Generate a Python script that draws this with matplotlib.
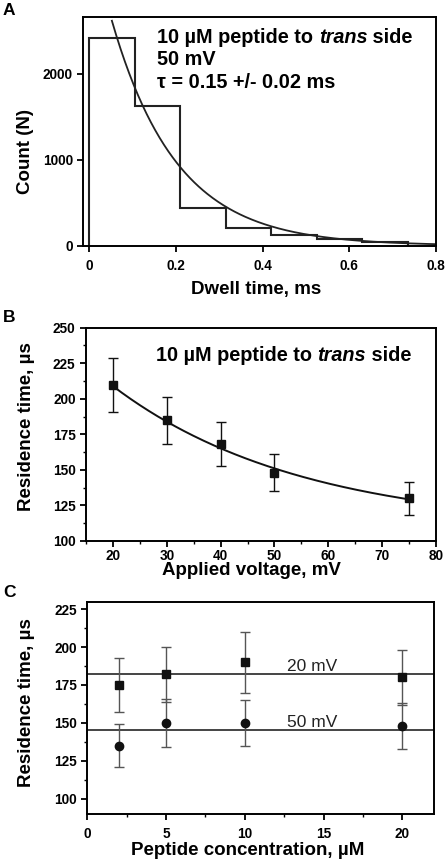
import matplotlib
matplotlib.use("Agg")
import matplotlib.pyplot as plt
import numpy as np
from matplotlib.ticker import MultipleLocator

plt.rcParams['font.family'] = ['Liberation Sans', 'DejaVu Sans']
plt.rcParams['font.weight'] = 'bold'

# Panel A: dwell time histogram (ms) and exponential fit
bin_edges = [0, 0.105, 0.21, 0.315, 0.42, 0.525, 0.63, 0.735]
counts = [2410, 1620, 440, 210, 120, 75, 45]
fit_amp = 3700
fit_tau = 0.15

# Panel B: residence time vs applied voltage
voltage = [20, 30, 40, 50, 75]
res_time_v = [210, 185, 168, 148, 130]
res_err_v = [19, 16.5, 15.5, 13, 11.5]
vfit_a, vfit_b, vfit_c = 178, 35, 108.4

# Panel C: residence time vs peptide concentration
conc = [2, 5, 10, 20]
res_20mv = [175, 182, 190, 180]
err_20mv = [18, 18, 20, 18]
res_50mv = [135, 150, 150, 148]
err_50mv = [14, 16, 15, 15]
mean_20mv = 182
mean_50mv = 145

W, H = 447, 861
fig = plt.figure(figsize=(W / 100, H / 100), dpi=100)
renderer = fig.canvas.get_renderer()

tick_lbl = 9.8
lab_size = 13.5
txt_size = 14.3


def make_ax(left, top, right, bottom):
    ax = fig.add_axes([left / W, 1 - bottom / H, (right - left) / W, (bottom - top) / H])
    for s in ax.spines.values():
        s.set_linewidth(1.4)
    ax.tick_params(which='major', direction='out', length=4.5, width=1.3, labelsize=tick_lbl, pad=3)
    ax.tick_params(which='minor', direction='out', length=2.5, width=1.0)
    return ax


def trans_line(ax, x, y):
    # "10 µM peptide to " + italic "trans" + " side"
    parts = [('10 µM peptide to ', 'normal'), ('trans', 'italic'), (' side', 'normal')]
    px, py = ax.transAxes.transform((x, y))
    for s, style in parts:
        tx = fig.text(px / W, py / H, s, fontsize=txt_size, fontweight='bold',
                      style=style, va='baseline')
        px = tx.get_window_extent(renderer=renderer).x1


def labels(ax, xlab, ylab, xpos, ypos):
    ax.set_xlabel(xlab, fontsize=lab_size, fontweight='bold', va='baseline')
    ax.set_ylabel(ylab, fontsize=lab_size, fontweight='bold', va='center')
    ax.xaxis.set_label_coords(*xpos)
    ax.yaxis.set_label_coords(*ypos)


# ---- A ----
axA = make_ax(83.3, 17, 436, 245.7)
axA.stairs(counts, bin_edges, baseline=0, color='#222222', lw=1.5)
t = np.linspace(0.052, 0.8, 300)
axA.plot(t, fit_amp * np.exp(-t / fit_tau), color='#222222', lw=1.3)
axA.set_xlim(-0.014, 0.8)
axA.set_ylim(0, 2660)
axA.set_xticks([0, 0.2, 0.4, 0.6, 0.8])
axA.set_xticklabels(['0', '0.2', '0.4', '0.6', '0.8'])
axA.set_yticks([0, 1000, 2000])
axA.tick_params(axis='x', pad=5)
labels(axA, 'Dwell time, ms', 'Count (N)', (0.49, -0.2125), (-0.164, 0.41))
trans_line(axA, 0.21, 0.887)
axA.text(0.21, 0.79, '50 mV', transform=axA.transAxes,
         fontsize=txt_size, fontweight='bold', va='baseline')
axA.text(0.21, 0.69, 'τ = 0.15 +/- 0.02 ms', transform=axA.transAxes,
         fontsize=txt_size, fontweight='bold', va='baseline')

# ---- B ----
axB = make_ax(86, 327.7, 436, 541)
v = np.linspace(20, 75, 200)
axB.plot(v, vfit_a * np.exp(-v / vfit_b) + vfit_c, color='#111111', lw=1.4)
axB.errorbar(voltage, res_time_v, yerr=res_err_v, fmt='s', color='#111111', ms=5.5,
             capsize=3.5, elinewidth=1.0, capthick=1.0)
axB.set_xlim(15, 80)
axB.set_ylim(100, 250)
axB.set_xticks([20, 30, 40, 50, 60, 70, 80])
axB.xaxis.set_minor_locator(MultipleLocator(5))
axB.yaxis.set_major_locator(MultipleLocator(25))
axB.yaxis.set_minor_locator(MultipleLocator(12.5))
axB.tick_params(axis='x', pad=1)
labels(axB, 'Applied voltage, mV', 'Residence time, µs', (0.474, -0.159), (-0.169, 0.537))
trans_line(axB, 0.2, 0.845)

# ---- C ----
axC = make_ax(87.3, 602.3, 434, 814.3)
axC.axhline(mean_20mv, color='#444444', lw=1.4)
axC.axhline(mean_50mv, color='#444444', lw=1.4)
axC.errorbar(conc, res_20mv, yerr=err_20mv, fmt='s', color='#111111', ecolor='#555555',
             ms=5.5, capsize=3.5, elinewidth=1.0, capthick=1.0)
axC.errorbar(conc, res_50mv, yerr=err_50mv, fmt='o', color='#111111', ecolor='#555555',
             ms=6, capsize=3.5, elinewidth=1.0, capthick=1.0)
axC.text(12.7, mean_20mv + 0.3, '20 mV', fontsize=12.5, fontweight='normal', va='bottom', color='#222222')
axC.text(12.7, mean_50mv + 0.3, '50 mV', fontsize=12.5, fontweight='normal', va='bottom', color='#222222')
axC.set_xlim(0, 22)
axC.set_ylim(89.7, 229.5)
axC.xaxis.set_major_locator(MultipleLocator(5))
axC.xaxis.set_minor_locator(MultipleLocator(2.5))
axC.set_yticks([100, 125, 150, 175, 200, 225])
axC.yaxis.set_minor_locator(MultipleLocator(12.5))
axC.tick_params(axis='x', pad=5)
labels(axC, 'Peptide concentration, µM', 'Residence time, µs', (0.462, -0.192), (-0.174, 0.527))

for ax in (axA, axB, axC):
    for lbl in ax.get_xticklabels() + ax.get_yticklabels():
        lbl.set_fontweight('bold')

fig.text(3 / W, 1 - 15 / H, 'A', fontsize=12.5, fontweight='bold', va='baseline')
fig.text(3 / W, 1 - 322 / H, 'B', fontsize=12.5, fontweight='bold', va='baseline')
fig.text(3 / W, 1 - 597 / H, 'C', fontsize=12.5, fontweight='bold', va='baseline')

fig.savefig('out.png', dpi=100)
